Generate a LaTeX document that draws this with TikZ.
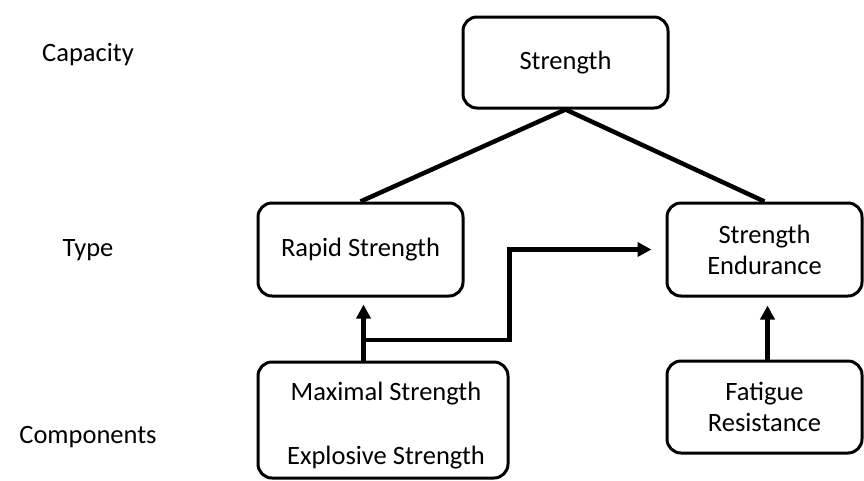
\documentclass[tikz,border=0pt]{standalone}
\usepackage{fontspec}
\setmainfont{Carlito}
\usetikzlibrary{arrows.meta}
\begin{document}
\begin{tikzpicture}[x=1pt,y=-1pt,
  box/.style={draw=black,line width=3pt,rounded corners=14pt,align=center,
    font=\fontsize{26.5}{31}\selectfont,inner sep=0pt},
  lbl/.style={font=\fontsize{26.5}{31}\selectfont,inner sep=0pt,align=center},
  conn/.style={line width=4.5pt,black},
  arr/.style={conn,-{Triangle[length=14pt,width=14pt]}}]
\useasboundingbox[fill=white] (0,0) rectangle (864,480);
\node[lbl] (capacity) at (88,55) {Capacity};
\node[lbl] (type) at (88,250) {Type};
\node[lbl] (components) at (88,437) {Components};
\node[box,minimum width=205pt,minimum height=91pt] (strength) at (565.5,62.5) {Strength};
\node[box,minimum width=205pt,minimum height=93pt] (rapid) at (360.5,249.5) {Rapid Strength};
\node[box,minimum width=195pt,minimum height=93pt] (endur) at (764.5,249.5) {Strength\\Endurance};
\node[box,minimum width=250pt,minimum height=116pt] (comp) at (383,420) {};
\node[lbl] (comptext) at (386,426) {Maximal Strength\\[33pt]Explosive Strength};
\node[box,minimum width=195pt,minimum height=92pt] (fatigue) at (764.5,407) {Fatigue\\Resistance};
\draw[conn] (strength.south) -- (rapid.north);
\draw[conn] (strength.south) -- (endur.north);
\coordinate (j) at ([xshift=3pt]rapid.south |- 0,340);
\draw[arr,shorten >=7pt] (j |- comp.north) -- (j |- rapid.south);
\draw[arr,shorten >=14pt] (j) -- (j -| comp.east) |- (endur.west);
\draw[arr,shorten >=8pt] ([xshift=3pt]fatigue.north) -- ([xshift=3pt]endur.south);
\end{tikzpicture}
\end{document}
